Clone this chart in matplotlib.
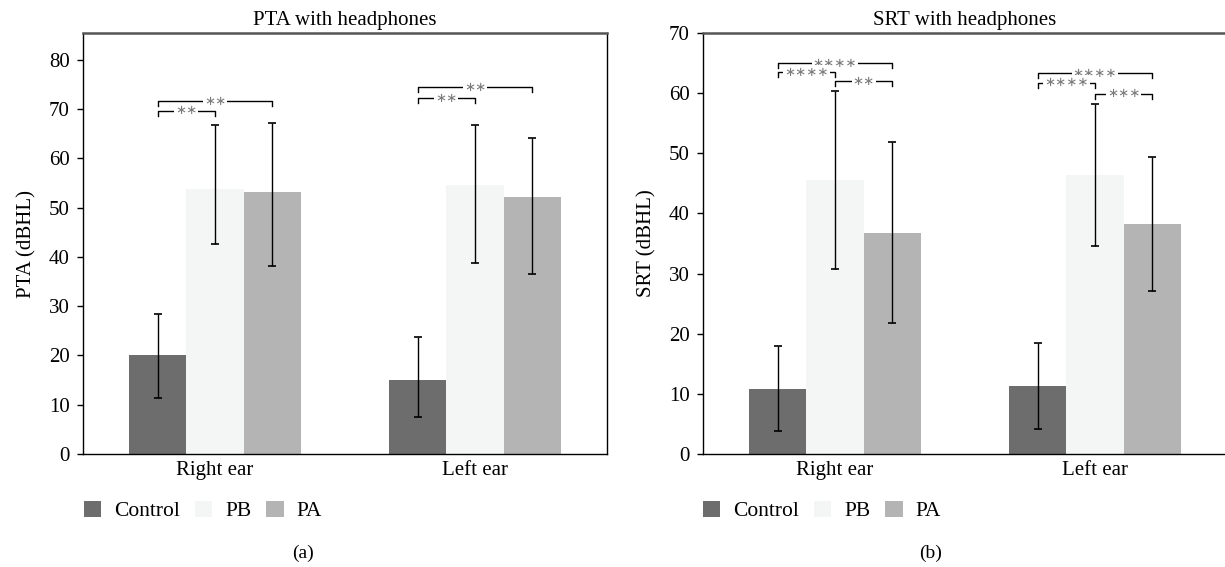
import numpy as np
import matplotlib
matplotlib.use('Agg')
import matplotlib.pyplot as plt
from matplotlib.patches import Patch

plt.rcParams['font.family'] = ['Liberation Serif', 'DejaVu Serif']

groups = ['Right ear', 'Left ear']
series = ['Control', 'PB', 'PA']
colors = ['#6d6d6d', '#f4f6f5', '#b3b4b3']

# PTA: mean and the ends of the error bars, per series, [right ear, left ear]
pta_mean = [[20.1, 15.0], [53.8, 54.6], [53.1, 52.1]]
pta_low = [[11.4, 7.5], [42.7, 38.7], [38.1, 36.5]]
pta_high = [[28.5, 23.7], [66.8, 66.7], [67.1, 64.1]]

# SRT
srt_mean = [[10.8, 11.3], [45.6, 46.4], [36.7, 38.2]]
srt_low = [[3.8, 4.2], [30.8, 34.6], [21.8, 27.1]]
srt_high = [[18.0, 18.5], [60.4, 58.2], [51.8, 49.3]]

# significance brackets: (group, series a, series b, height, stars)
pta_sig = [(0, 0, 1, 69.6, '**'), (0, 0, 2, 71.6, '**'),
           (1, 0, 1, 72.2, '**'), (1, 0, 2, 74.4, '**')]
srt_sig = [(0, 0, 2, 65.0, '****'), (0, 0, 1, 63.5, '****'), (0, 1, 2, 62.0, '**'),
           (1, 0, 2, 63.3, '****'), (1, 0, 1, 61.7, '****'), (1, 1, 2, 59.9, '***')]

W = 0.221
FS = 15


def panel(ax, mean, low, high, sig, ymax, yticks, ylabel, title, tick_drop):
    x = np.arange(len(groups))
    for k in range(len(series)):
        xs = x + (k - 1) * W
        m = np.array(mean[k])
        err = [m - np.array(low[k]), np.array(high[k]) - m]
        ax.bar(xs, m, W, color=colors[k], zorder=1)
        ax.errorbar(xs, m, yerr=err, fmt='none', ecolor='black', elinewidth=1,
                    capsize=3, capthick=1.2, zorder=2)
    for g, a, b, y, stars in sig:
        x0 = g + (a - 1) * W
        x1 = g + (b - 1) * W
        ax.plot([x0, x0, x1, x1], [y - tick_drop, y, y, y - tick_drop],
                color='black', lw=1, zorder=3)
        ax.text((x0 + x1) / 2, y, '\u2217' * len(stars), ha='center', va='center',
                family='DejaVu Sans', fontsize=9.5, color='#7a7a7a', zorder=4,
                bbox=dict(facecolor='white', edgecolor='none', pad=0.8))
    ax.set_xlim(-0.508, 1.508)
    ax.set_ylim(0, ymax)
    ax.set_yticks(yticks)
    ax.set_xticks(x)
    ax.set_xticklabels(groups, fontsize=FS)
    ax.tick_params(axis='x', length=0, pad=5)
    ax.tick_params(axis='y', length=4.5, width=1, labelsize=FS, pad=5)
    ax.set_ylabel(ylabel, fontsize=FS, labelpad=9)
    ax.set_title(title, fontsize=FS, pad=6)
    ax.spines['top'].set_color('#555555')
    ax.spines['top'].set_linewidth(1.8)
    for s in ['left', 'bottom', 'right']:
        ax.spines[s].set_linewidth(1)


fig = plt.figure(figsize=(12.25, 5.67), dpi=100)

ax1 = fig.add_axes([83 / 1225, 113 / 567, 524 / 1225, 421 / 567])
panel(ax1, pta_mean, pta_low, pta_high, pta_sig, 85.4, range(0, 81, 10),
      'PTA (dBHL)', 'PTA with headphones', 1.0)

ax2 = fig.add_axes([703 / 1225, 113 / 567, 524 / 1225, 421 / 567])
panel(ax2, srt_mean, srt_low, srt_high, srt_sig, 70, range(0, 71, 10),
      'SRT (dBHL)', 'SRT with headphones', 0.8)
ax2.spines['right'].set_visible(False)

handles = [Patch(facecolor=c, edgecolor='none') for c in colors]
for lx in [84 / 1225, 703 / 1225]:
    fig.legend(handles, series, loc='center left', bbox_to_anchor=(lx, 56 / 567), ncol=3,
               frameon=False, fontsize=15.5, handlelength=0.8, handleheight=0.8,
               handletextpad=0.6, columnspacing=0.7, borderpad=0, borderaxespad=0)

fig.text(303 / 1225, 14 / 567, '(a)', ha='center', va='center', fontsize=14)
fig.text(931 / 1225, 14 / 567, '(b)', ha='center', va='center', fontsize=14)

fig.savefig('out.png', dpi=100)
